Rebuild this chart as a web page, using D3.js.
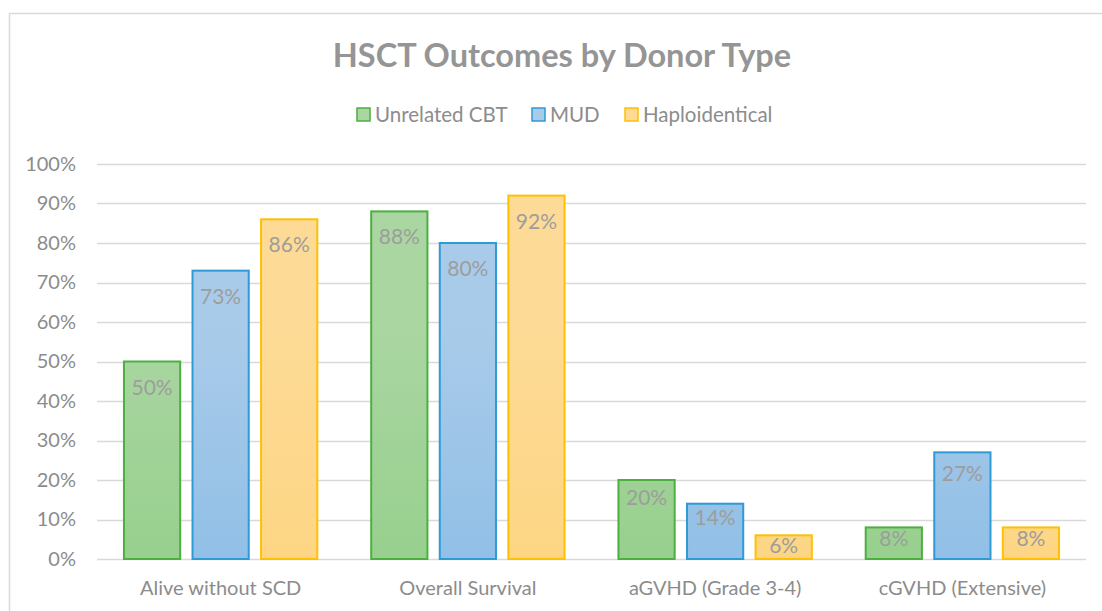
<!DOCTYPE html>
<html>
<head>
<meta charset="utf-8">
<script src="https://cdn.jsdelivr.net/npm/d3@7"></script>
<style>
  body { margin: 0; background: #fff; }
  text { font-family: Lato, "Open Sans", sans-serif; }
</style>
</head>
<body>
<div id="chart"></div>
<script>
// data
var categories = ["Alive without SCD", "Overall Survival", "aGVHD (Grade 3-4)", "cGVHD (Extensive)"];
var seriesNames = ["Unrelated CBT", "MUD", "Haploidentical"];
var cbtValues = [50, 88, 20, 8];
var mudValues = [73, 80, 14, 27];
var haploValues = [86, 92, 6, 8];
var yTicks = [0, 10, 20, 30, 40, 50, 60, 70, 80, 90, 100];

var series = [
  {name: seriesNames[0], values: cbtValues, stroke: "#4caf40", top: "#aad6a1", bottom: "#8acb80"},
  {name: seriesNames[1], values: mudValues, stroke: "#2e9ad6", top: "#a9cbea", bottom: "#80b7e3"},
  {name: seriesNames[2], values: haploValues, stroke: "#ffc000", top: "#fddb96", bottom: "#fdd278"}
];

var W = 1102, H = 611;
var margin = {top: 164, right: 16, bottom: 52, left: 97};
var width = W - margin.left - margin.right,
    height = H - margin.top - margin.bottom;
var fontStack = "Lato, 'Open Sans', sans-serif";

var svg = d3.select("#chart").append("svg")
    .attr("width", W)
    .attr("height", H);

// gradients for the bars
var defs = svg.append("defs");
series.forEach(function(s, i) {
  var g = defs.append("linearGradient")
      .attr("id", "grad" + i)
      .attr("gradientUnits", "userSpaceOnUse")
      .attr("x1", 0).attr("y1", margin.top)
      .attr("x2", 0).attr("y2", margin.top + height);
  g.append("stop").attr("offset", "0%").attr("stop-color", s.top);
  g.append("stop").attr("offset", "100%").attr("stop-color", s.bottom);
});

// chart border
svg.append("rect")
    .attr("x", 9.5).attr("y", 13.5)
    .attr("width", W + 20).attr("height", H + 20)
    .attr("fill", "none")
    .attr("stroke", "#d9d9d9")
    .attr("stroke-width", 1.5);

// title
svg.append("text")
    .attr("x", 562).attr("y", 67)
    .attr("text-anchor", "middle")
    .style("font-size", "32.5px")
    .style("font-weight", "bold")
    .style("fill", "#959595")
    .text("HSCT Outcomes by Donor Type");

// legend
var legendX = [357, 532, 625];
var legend = svg.append("g");
series.forEach(function(s, i) {
  var lg = legend.append("g").attr("transform", "translate(" + legendX[i] + ",108)");
  lg.append("rect")
      .attr("width", 13).attr("height", 13)
      .attr("fill", s.top)
      .attr("stroke", s.stroke)
      .attr("stroke-width", 1.5);
  lg.append("text")
      .attr("x", 18).attr("y", 14)
      .style("font-size", "20.5px")
      .style("fill", "#8c8c8c")
      .text(s.name);
});

var g = svg.append("g")
    .attr("transform", "translate(" + margin.left + "," + margin.top + ")");

var x0 = d3.scaleBand()
    .domain(categories)
    .range([0, width])
    .paddingInner(0.218)
    .paddingOuter(0.109);

var x1 = d3.scaleBand()
    .domain(seriesNames)
    .range([0, x0.bandwidth()])
    .paddingInner(0.18);

var y = d3.scaleLinear()
    .domain([0, 100])
    .range([height, 0]);

// gridlines
g.append("g")
    .selectAll("line")
    .data(yTicks)
    .join("line")
      .attr("x1", 0).attr("x2", width)
      .attr("y1", function(d) { return Math.round(y(d)) + 0.5; })
      .attr("y2", function(d) { return Math.round(y(d)) + 0.5; })
      .attr("stroke", "#d9d9d9")
      .attr("stroke-width", 1.5);

// y axis labels
var yAxis = g.append("g")
    .call(d3.axisLeft(y).tickValues(yTicks).tickSize(0).tickPadding(21)
      .tickFormat(function(d) { return d + "%"; }));
yAxis.select(".domain").remove();
yAxis.selectAll("text")
    .style("font-size", "20px")
    .style("fill", "#8c8c8c")
    .style("font-family", fontStack);

// x axis labels
var xAxis = g.append("g")
    .attr("transform", "translate(0," + height + ")")
    .call(d3.axisBottom(x0).tickSize(0).tickPadding(22));
xAxis.select(".domain").remove();
xAxis.selectAll("text")
    .style("font-size", "20px")
    .style("fill", "#8c8c8c")
    .style("font-family", fontStack);

// bars
var groups = g.selectAll(".grp")
    .data(categories)
    .join("g")
      .attr("class", "grp")
      .attr("transform", function(d) { return "translate(" + x0(d) + ",0)"; });

// label sits lower inside tall bars, closer to the top on short ones
function labelOffset(v) {
  var h = height - y(v);
  return Math.min(33, 14 + h * 0.14);
}

series.forEach(function(s, si) {
  groups.append("rect")
      .attr("x", x1(s.name))
      .attr("y", function(d, i) { return y(s.values[i]); })
      .attr("width", x1.bandwidth())
      .attr("height", function(d, i) { return height - y(s.values[i]); })
      .attr("fill", "url(#grad" + si + ")")
      .attr("stroke", s.stroke)
      .attr("stroke-width", 2);
  groups.append("text")
      .attr("x", x1(s.name) + x1.bandwidth() / 2)
      .attr("y", function(d, i) { return y(s.values[i]) + labelOffset(s.values[i]); })
      .attr("text-anchor", "middle")
      .style("font-size", "21px")
      .style("fill", "#9d9d9d")
      .text(function(d, i) { return s.values[i] + "%"; });
});
</script>
</body>
</html>
